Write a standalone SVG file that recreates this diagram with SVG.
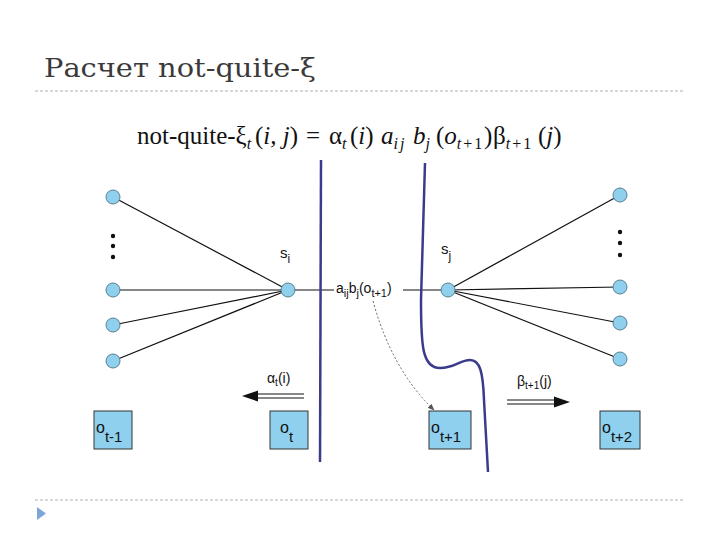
<svg xmlns="http://www.w3.org/2000/svg" width="720" height="540" viewBox="0 0 720 540">
<defs>
<style>
.sep{stroke:#b0b0b0;stroke-width:1;stroke-dasharray:3,2;fill:none}
.edge{stroke:#111;stroke-width:1.2;fill:none}
.node{fill:#8fd0ef;stroke:#5d7f8f;stroke-width:1}
.box{fill:#8fd0ee;stroke:#333;stroke-width:1}
.lbl{font-family:"Liberation Sans",Arial,sans-serif;fill:#111}
.math{font-family:"Liberation Serif","Times New Roman",serif;fill:#111}
.cut{stroke:#3b3b8c;stroke-width:2.5;fill:none}
.dot{fill:#111}
</style>
<marker id="dashhead" viewBox="0 0 10 10" refX="9" refY="5" markerWidth="7" markerHeight="7" orient="auto">
<path d="M0,1 L10,5 L0,9 z" fill="#555"/>
</marker>
</defs>
<rect width="720" height="540" fill="#fff"/>

<text x="44" y="77" font-family="'DejaVu Serif','Liberation Serif',serif" font-size="26" fill="#3a3a3a" textLength="272" lengthAdjust="spacingAndGlyphs">Расчет not-quite-ξ</text>
<line class="sep" x1="35" y1="91" x2="685" y2="91"/>
<line class="sep" x1="35" y1="500" x2="685" y2="500"/>
<polygon points="37,507 46,513.5 37,520" fill="#7aa7d6"/>

<text class="math" x="137" y="144" font-size="25">not-quite-ξ<tspan font-size="16" font-style="italic" dy="5">t</tspan><tspan x="255" dy="-5">(</tspan><tspan font-style="italic">i, j</tspan><tspan>)</tspan><tspan x="306">=</tspan><tspan x="329">α</tspan><tspan font-size="16" font-style="italic" dy="5">t</tspan><tspan x="350" dy="-5">(</tspan><tspan font-style="italic">i</tspan><tspan>)</tspan><tspan x="381" font-style="italic">a</tspan><tspan font-size="16" font-style="italic" dy="5" letter-spacing="2">ij</tspan><tspan x="413" font-style="italic" dy="-5">b</tspan><tspan font-size="16" font-style="italic" dy="5">j</tspan><tspan x="436" dy="-5">(</tspan><tspan font-style="italic">o</tspan><tspan font-size="16" dy="5" letter-spacing="2"><tspan font-style="italic">t</tspan>+1</tspan><tspan x="484" dy="-5">)</tspan><tspan x="493">β</tspan><tspan font-size="16" dy="5" letter-spacing="2"><tspan font-style="italic">t</tspan>+1</tspan><tspan x="538" dy="-5">(</tspan><tspan font-style="italic">j</tspan><tspan>)</tspan></text>

<g id="connectors">
<line class="edge" x1="288" y1="290" x2="113" y2="197"/>
<line class="edge" x1="288" y1="290" x2="113" y2="290"/>
<line class="edge" x1="288" y1="290" x2="113" y2="325"/>
<line class="edge" x1="288" y1="290" x2="113" y2="361"/>
<line class="edge" x1="288" y1="290" x2="334" y2="290"/>
<line class="edge" x1="403" y1="290" x2="448" y2="290"/>
<line class="edge" x1="448" y1="290" x2="620" y2="195"/>
<line class="edge" x1="448" y1="290" x2="620" y2="287"/>
<line class="edge" x1="448" y1="290" x2="620" y2="323"/>
<line class="edge" x1="448" y1="290" x2="620" y2="359"/>
<path d="M373,301 Q392,370 434,410" stroke="#666" stroke-width="1" stroke-dasharray="2,2" fill="none" marker-end="url(#dashhead)"/>
<g id="alpha-arrow">
<line x1="304" y1="394" x2="254" y2="394" stroke="#111" stroke-width="1.2"/>
<line x1="304" y1="398" x2="254" y2="398" stroke="#111" stroke-width="1.2"/>
<polygon points="242,396 258,390.5 258,401.5" fill="#111"/>
</g>
<g id="beta-arrow">
<line x1="507" y1="400" x2="558" y2="400" stroke="#111" stroke-width="1.2"/>
<line x1="507" y1="404" x2="558" y2="404" stroke="#111" stroke-width="1.2"/>
<polygon points="570,402 554,396.5 554,407.5" fill="#111"/>
</g>
</g>

<line id="cut-left" class="cut" x1="321" y1="160" x2="320" y2="462"/>
<path id="cut-right" class="cut" d="M425,163 L421,300 C421,345 422,368 440,368 C455,368 460,360 470,360 C480,360 483,372 484,400 L488,472"/>

<g id="left-nodes">
<circle class="node" cx="113" cy="197" r="7"/>
<circle class="dot" cx="113" cy="236" r="2.2"/>
<circle class="dot" cx="113" cy="246" r="2.2"/>
<circle class="dot" cx="113" cy="257" r="2.2"/>
<circle class="node" cx="113" cy="290" r="7"/>
<circle class="node" cx="113" cy="325" r="7"/>
<circle class="node" cx="113" cy="361" r="7"/>
</g>
<g id="right-nodes">
<circle class="node" cx="620" cy="195" r="7"/>
<circle class="dot" cx="620" cy="232" r="2.2"/>
<circle class="dot" cx="620" cy="243" r="2.2"/>
<circle class="dot" cx="620" cy="255" r="2.2"/>
<circle class="node" cx="620" cy="287" r="7"/>
<circle class="node" cx="620" cy="323" r="7"/>
<circle class="node" cx="620" cy="359" r="7"/>
</g>
<g id="si">
<circle class="node" cx="288" cy="290" r="7"/>
<text class="lbl" x="280" y="258" font-size="15">s<tspan font-size="12" dy="5">i</tspan></text>
</g>
<g id="sj">
<circle class="node" cx="448" cy="290" r="7"/>
<text class="lbl" x="441" y="254" font-size="15">s<tspan font-size="12" dy="6">j</tspan></text>
</g>
<text id="aij-label" class="lbl" x="336" y="293" font-size="14">a<tspan font-size="11" dy="4">ij</tspan><tspan dy="-4">b</tspan><tspan font-size="11" dy="4">j</tspan><tspan dy="-4">(o</tspan><tspan font-size="11" dy="4">t+1</tspan><tspan dy="-4">)</tspan></text>
<text id="alpha-label" class="lbl" x="267" y="383" font-size="14">α<tspan font-size="10" dy="3">t</tspan><tspan dy="-3">(i)</tspan></text>
<text id="beta-label" class="lbl" x="517" y="386" font-size="14">β<tspan font-size="10" dy="3">t+1</tspan><tspan dy="-3">(j)</tspan></text>

<g id="o-t-1">
<rect class="box" x="94" y="411" width="38" height="38"/>
<text class="lbl" x="96" y="433" font-size="16">o<tspan font-size="15" dy="9">t-1</tspan></text>
</g>
<g id="o-t">
<rect class="box" x="270" y="411" width="38" height="38"/>
<text class="lbl" x="280" y="433" font-size="16">o<tspan font-size="15" dy="9">t</tspan></text>
</g>
<g id="o-t1">
<rect class="box" x="429" y="411" width="42" height="38"/>
<text class="lbl" x="431" y="433" font-size="16">o<tspan font-size="15" dy="9">t+1</tspan></text>
</g>
<g id="o-t2">
<rect class="box" x="600" y="411" width="40" height="38"/>
<text class="lbl" x="602" y="433" font-size="16">o<tspan font-size="15" dy="9">t+2</tspan></text>
</g>
</svg>
